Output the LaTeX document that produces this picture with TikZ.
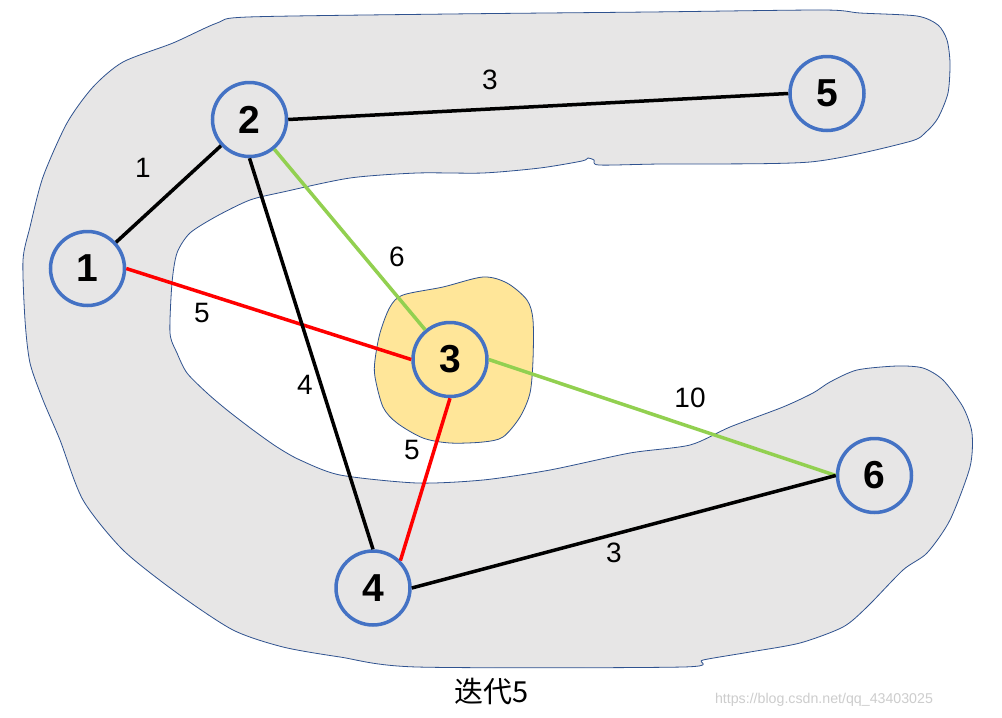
\documentclass[tikz,border=0pt]{standalone}
\usepackage{fontspec}
\setmainfont{Liberation Sans}
\newfontfamily\cjk{Noto Sans CJK SC}
\definecolor{blobgray}{HTML}{E7E6E6}
\definecolor{blobline}{HTML}{2F528F}
\definecolor{peach}{HTML}{FFE699}
\definecolor{nodeblue}{HTML}{4472C4}
\definecolor{edgegreen}{HTML}{92D050}
\definecolor{edgered}{HTML}{FF0000}
\definecolor{wmgray}{RGB}{205,205,205}
\tikzset{
  vert/.style={circle, draw=nodeblue, line width=3.5pt, minimum size=74pt, inner sep=0pt,
    font=\fontsize{39}{40}\selectfont\bfseries},
  wlabel/.style={font=\fontsize{28}{29}\selectfont, inner sep=0pt},
  blackedge/.style={draw=black, line width=3.5pt},
  greenedge/.style={draw=edgegreen, line width=3.5pt},
  rededge/.style={draw=edgered, line width=3.5pt},
  region/.style={fill=blobgray, draw=blobline, line width=0.8pt},
  core/.style={fill=peach, draw=blobline, line width=0.8pt}
}
\begin{document}
\begin{tikzpicture}[x=1pt,y=-1pt]
\useasboundingbox (0,0) rectangle (1002,718);
\fill[white] (0,0) rectangle (1002,718);
% gray C-shaped region
\path[region] plot[smooth cycle, tension=0.45] coordinates {
  (248,17) (450,14) (650,12) (823,10) (860,13) (917,16) (938,25) (947,40) (950,63) (948,93)
  (938,118) (926,132) (908,142) (810,162) (660,164) (599,165) (594,160) (588,158) (582,161)
  (540,168) (483,173) (417,173) (350,178) (283,192) (250,200) (217,216) (190,233) (177,253)
  (172,283) (170,333) (177,353) (187,373) (207,393) (227,410) (253,430) (277,447) (300,460)
  (340,475) (417,483) (483,480) (550,470) (630,453) (690,445) (730,427) (783,407) (813,393)
  (830,382) (857,370) (897,366) (923,368) (943,380) (963,407) (972,433) (970,467) (950,520)
  (927,553) (903,570) (867,607) (843,627) (800,643) (750,652) (703,660) (683,667) (417,667)
  (340,657) (283,647) (233,630) (177,593) (123,550) (83,500) (60,440) (43,400) (30,363)
  (25,320) (23,260) (30,227) (43,177) (67,123) (93,87) (123,62) (173,43) (217,23)
};
% peach region around node 3
\path[core] plot[smooth cycle, tension=0.5] coordinates {
  (483,277) (507,283) (527,300) (533,320) (533,360) (530,393) (520,417) (503,437) (483,442)
  (450,443) (423,438) (397,423) (383,407) (375,377) (375,360) (380,333) (390,307) (403,295)
  (443,287)
};
% vertices
\node[vert] (n1) at (87.5,268.5) {1};
\node[vert] (n2) at (249.5,119.5) {2};
\node[vert] (n3) at (450,359.5) {3};
\node[vert] (n4) at (373,588) {4};
\node[vert] (n5) at (827,93.5) {5};
\node[vert] (n6) at (874.5,475.5) {6};
% edges
\path[blackedge] (n1) -- (n2);
\path[blackedge] (n2.east) -- (n5.west);
\path[greenedge] (n2) -- (n3);
\path[rededge] (n1.east) -- (n3.west);
\path[blackedge] (n2.south) -- (n4.north);
\path[rededge] (n3.south) -- (n4.north east);
\path[greenedge] (n3.east) -- (n6.west);
\path[blackedge] (n4.east) -- (n6.west);
% weights
\node[wlabel] (w12) at (143,168) {1};
\node[wlabel] (w25) at (490,80) {3};
\node[wlabel] (w23) at (397,257) {6};
\node[wlabel] (w13) at (202,313) {5};
\node[wlabel] (w24) at (305,385) {4};
\node[wlabel] (w34) at (412,450) {5};
\node[wlabel] (w36) at (690,398) {10};
\node[wlabel] (w46) at (614,553) {3};
% caption and watermark
\node[font=\cjk\fontsize{29}{30}\selectfont, inner sep=0pt] (cap) at (491.5,692) {迭代5};
\node[font=\fontsize{14.2}{15}\selectfont, text=wmgray, inner sep=0pt] (wm) at (824,700) {https://blog.csdn.net/qq\_43403025};
\end{tikzpicture}
\end{document}
